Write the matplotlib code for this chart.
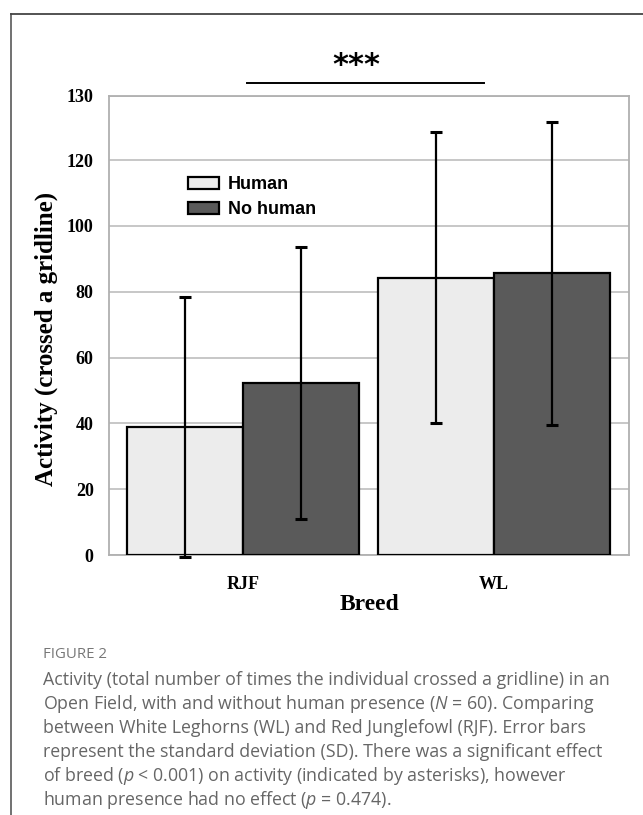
import matplotlib
matplotlib.use("Agg")
import matplotlib.pyplot as plt
from matplotlib.lines import Line2D
import numpy as np

# data
breeds = ["RJF", "WL"]
conditions = ["Human", "No human"]
means_human = [39.0, 84.3]
means_no_human = [52.3, 85.6]
sd_human = [39.5, 44.3]
sd_no_human = [41.3, 46.0]
ytick_values = [0, 20, 40, 60, 80, 100, 120, 140]
ytick_labels = ["0", "20", "40", "60", "80", "100", "120", "130"]

caption_head = "FIGURE 2"
caption_lines = [
    "Activity (total number of times the individual crossed a gridline) in an",
    "Open Field, with and without human presence ($N$ = 60). Comparing",
    "between White Leghorns (WL) and Red Junglefowl (RJF). Error bars",
    "represent the standard deviation (SD). There was a significant effect",
    "of breed ($p$ < 0.001) on activity (indicated by asterisks), however",
    "human presence had no effect ($p$ = 0.474).",
]

plt.rcParams["mathtext.fontset"] = "custom"
plt.rcParams["mathtext.rm"] = "Open Sans"
plt.rcParams["mathtext.it"] = "Open Sans:italic"

W, H = 643, 815
fig = plt.figure(figsize=(W / 100, H / 100), dpi=100)
ax = fig.add_axes([109 / W, 1 - 555 / H, 520 / W, 459 / H])

x = np.arange(len(breeds))
bw = 0.462
serif = "Liberation Serif"
ax.bar(x - bw / 2, means_human, bw, color="#ececec", edgecolor="black",
       linewidth=1.6, label=conditions[0], zorder=3)
ax.bar(x + bw / 2, means_no_human, bw, color="#5a5a5a", edgecolor="black",
       linewidth=1.6, label=conditions[1], zorder=3)
for xs, m, sd in [(x - bw / 2, means_human, sd_human), (x + bw / 2, means_no_human, sd_no_human)]:
    eb = ax.errorbar(xs, m, yerr=sd, fmt="none", ecolor="black",
                     elinewidth=1.6, capsize=4.5, capthick=2.2, zorder=4)
    for art in eb.lines[1] + eb.lines[2]:
        art.set_clip_on(False)

ax.set_xlim(-0.534, 1.538)
ax.set_ylim(0, 139.5)
ax.set_yticks(ytick_values[:-1] + [139.5])
ax.set_yticklabels(ytick_labels, fontfamily=serif, fontweight="bold", fontsize=13)
ax.set_xticks(x)
ax.set_xticklabels(breeds, fontfamily=serif, fontweight="bold", fontsize=13)
ax.tick_params(axis="y", length=0, pad=11)
ax.tick_params(axis="x", length=0, pad=15)
ax.yaxis.grid(True, color="#bdbdbd", linewidth=1.2, zorder=0)
ax.set_axisbelow(True)
for s in ax.spines.values():
    s.set_color("#b0b0b0")
    s.set_linewidth(1.3)

ax.set_ylabel("Activity (crossed a gridline)", fontfamily=serif, fontweight="bold",
              fontsize=18)
ax.yaxis.set_label_coords(-0.098, 0.47)
ax.set_xlabel("Breed", fontfamily=serif, fontweight="bold", fontsize=17, labelpad=1)

ax.legend(loc="upper left", bbox_to_anchor=(0.135, 0.845), frameon=False,
          borderpad=0, handlelength=1.7, handleheight=0.6, handletextpad=0.5,
          labelspacing=0.45, prop={"family": "Liberation Sans", "weight": "bold", "size": 13})

# significance bracket
ax.plot([0.016, 0.96], [143.5, 143.5], color="black", linewidth=1.4, clip_on=False)
ax.text(0.45, 144.5, "***", ha="center", va="bottom", fontsize=22,
        fontfamily="DejaVu Sans", fontweight="bold", clip_on=False)

# journal frame
fig.add_artist(Line2D([11 / W, 11 / W], [0, 1 - 14 / H], color="#666666", linewidth=1.3))
fig.add_artist(Line2D([11 / W, 1], [1 - 14 / H, 1 - 14 / H], color="#444444", linewidth=1.3))

# caption
fig.text(43 / W, 1 - 654 / H, caption_head, fontsize=10.8, color="#777777",
         fontfamily="Open Sans", va="center")
for i, line in enumerate(caption_lines):
    fig.text(43 / W, 1 - (680 + 24 * i) / H, line, fontsize=12.8, color="#666666",
             fontfamily="Open Sans", va="center")

fig.savefig("out.png", dpi=100)
